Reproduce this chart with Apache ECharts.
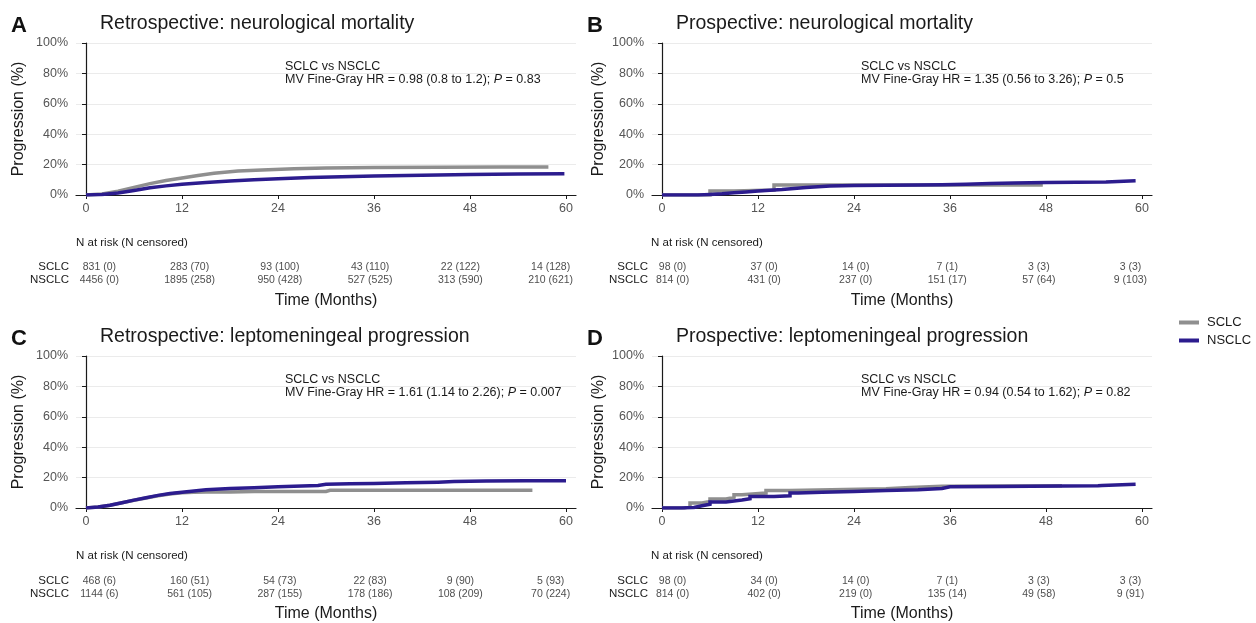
<!DOCTYPE html>
<html>
<head>
<meta charset="utf-8">
<script src="https://cdn.jsdelivr.net/npm/echarts@6/dist/echarts.min.js"></script>
<style>
html,body{margin:0;padding:0;background:#fff;}
#chart{width:1256px;height:623px;}
</style>
</head>
<body>
<div id="chart"></div>
<script>
// ---------------- DATA ----------------
const panelLetters = ['A', 'B', 'C', 'D'];
const panelTitles = [
  'Retrospective: neurological mortality',
  'Prospective: neurological mortality',
  'Retrospective: leptomeningeal progression',
  'Prospective: leptomeningeal progression'
];
const groups = ['SCLC', 'NSCLC'];
const xTicks = [0, 12, 24, 36, 48, 60];
const yTicks = [0, 20, 40, 60, 80, 100];

// Panel A (retrospective neurological mortality) - [months, %]
const A_SCLC = [[0,0],[2,0.6],[4,2.5],[6,5],[8,7.5],[10,9.5],[12,11.2],[14,12.8],[16,14.3],[19,15.8],[22,16.5],[26,17.2],[30,17.7],[36,18.1],[44,18.3],[52,18.4],[57.8,18.5]];
const A_NSCLC = [[0,0],[2,0.4],[4,1.3],[6,3],[8,4.7],[10,6],[12,7],[15,8.3],[18,9.2],[21,10],[24,10.7],[28,11.5],[32,12],[36,12.5],[42,13],[48,13.5],[54,13.8],[59.8,14]];
// Panel B (prospective neurological mortality) - step data
const B_SCLC = [[0,0],[6,2.6],[9,3.3],[14,6.6],[47.6,6.6]];
const B_NSCLC = [[0,0],[4.5,0.4],[6,0.8],[7.5,1.5],[9,2],[10.5,2.6],[12,3.1],[13.5,3.6],[15,4.3],[16.5,4.9],[18,5.4],[19.5,5.9],[21,6.2],[24,6.4],[28,6.6],[32,6.8],[35,7.1],[38,7.5],[41,7.9],[44,8.2],[48,8.5],[55.5,9.3],[59.2,9.3]];
// Panel C (retrospective leptomeningeal progression)
const C_SCLC = [[0,0],[1.5,0.7],[3,1.8],[4.5,3.5],[6,5.1],[7.5,6.6],[9,8],[10.5,9.2],[12,10],[13.5,10.3],[15,10.5],[18,10.6],[21,10.8],[24,10.9],[30,10.9],[30.5,11.7],[40,11.7],[55.8,11.7]];
const C_NSCLC = [[0,0],[1.5,0.7],[3,1.8],[4.5,3.5],[6,5.2],[7.5,6.8],[9,8.3],[10.5,9.5],[12,10.4],[13.5,11.2],[15,12],[18,12.8],[21,13.4],[24,13.9],[27,14.4],[29,14.8],[30,15.6],[33,15.9],[36,16.2],[40,16.6],[44,17],[46,17.4],[50,17.7],[55,17.9],[60,18]];
// Panel D (prospective leptomeningeal progression) - step data
const D_SCLC = [[0,0],[2.8,1.1],[3.5,3.3],[5,4.3],[6,5.9],[8,7],[9,8.7],[10,9.8],[13,11.5],[16,12.6],[28,13.5],[31,14.3],[35,14.6],[50,14.6]];
const D_NSCLC = [[0,0],[2.5,0.3],[4,1.5],[5,2.5],[6,3.9],[8,5.2],[10,6.1],[11,7.6],[14,8],[16,9.8],[17,10.4],[20,10.9],[24,11.5],[28,12],[32,12.8],[35,13.9],[36,14.1],[42,14.6],[54.5,14.8],[55,15.7],[59.2,15.7]];

// Number at risk tables
const riskTimes = [0, 12, 24, 36, 48, 60];
const A_risk_SCLC = ['831 (0)','283 (70)','93 (100)','43 (110)','22 (122)','14 (128)'];
const A_risk_NSCLC = ['4456 (0)','1895 (258)','950 (428)','527 (525)','313 (590)','210 (621)'];
const B_risk_SCLC = ['98 (0)','37 (0)','14 (0)','7 (1)','3 (3)','3 (3)'];
const B_risk_NSCLC = ['814 (0)','431 (0)','237 (0)','151 (17)','57 (64)','9 (103)'];
const C_risk_SCLC = ['468 (6)','160 (51)','54 (73)','22 (83)','9 (90)','5 (93)'];
const C_risk_NSCLC = ['1144 (6)','561 (105)','287 (155)','178 (186)','108 (209)','70 (224)'];
const D_risk_SCLC = ['98 (0)','34 (0)','14 (0)','7 (1)','3 (3)','3 (3)'];
const D_risk_NSCLC = ['814 (0)','402 (0)','219 (0)','135 (14)','49 (58)','9 (91)'];

// Annotation texts
const annotHead = 'SCLC vs NSCLC';
const annotHR = ['0.98 (0.8 to 1.2)', '1.35 (0.56 to 3.26)', '1.61 (1.14 to 2.26)', '0.94 (0.54 to 1.62)'];
const annotP = ['0.83', '0.5', '0.007', '0.82'];

// ---------------- LAYOUT / STYLE ----------------
const FONT = '"Liberation Sans", Arial, Helvetica, sans-serif';
const colors = { SCLC: '#8f8f8f', NSCLC: '#2c1c8e' };
const curves = [[A_SCLC, A_NSCLC], [B_SCLC, B_NSCLC], [C_SCLC, C_NSCLC], [D_SCLC, D_NSCLC]];
const stepped = [false, true, false, true];
const risks = [[A_risk_SCLC, A_risk_NSCLC], [B_risk_SCLC, B_risk_NSCLC], [C_risk_SCLC, C_risk_NSCLC], [D_risk_SCLC, D_risk_NSCLC]];

const plotBoxes = [
  { left: 76, top: 43, width: 500, height: 152 },
  { left: 652, top: 43, width: 500, height: 152 },
  { left: 76, top: 356, width: 500, height: 152 },
  { left: 652, top: 356, width: 500, height: 152 }
];
const riskBoxes = [
  { left: 90, top: 260.5, width: 470, height: 26, margin: 21 },
  { left: 663, top: 260.5, width: 477, height: 26, margin: 15 },
  { left: 90, top: 574.5, width: 470, height: 26, margin: 21 },
  { left: 663, top: 574.5, width: 477, height: 26, margin: 15 }
];
const XMIN = -1.25, XMAX = 61.25;

const grid = [], xAxis = [], yAxis = [], series = [], graphic = [];

plotBoxes.forEach((b, i) => {
  grid.push({ left: b.left, top: b.top, width: b.width, height: b.height, containLabel: false });
  xAxis.push({
    gridIndex: i, type: 'value', min: XMIN, max: XMAX,
    axisLine: { onZero: false, lineStyle: { color: '#1a1a1a', width: 1.2 } },
    axisTick: { show: true, length: 4, customValues: xTicks, lineStyle: { color: '#1a1a1a', width: 1 } },
    axisLabel: { customValues: xTicks, margin: 7, fontSize: 12.5, color: '#555', fontFamily: FONT },
    splitLine: { show: false }
  });
  yAxis.push({
    gridIndex: i, type: 'value', min: 0, max: 100, interval: 20,
    axisLine: { show: true, lineStyle: { color: '#1a1a1a', width: 1.2 } },
    axisTick: { show: true, length: 4, lineStyle: { color: '#1a1a1a', width: 1 } },
    axisLabel: { formatter: '{value}%', margin: 8, fontSize: 12.5, color: '#555', fontFamily: FONT },
    splitLine: { show: true, lineStyle: { color: '#ebebeb', width: 1 } }
  });
});
riskBoxes.forEach((b, i) => {
  const gi = 4 + i;
  grid.push({ left: b.left, top: b.top, width: b.width, height: b.height });
  xAxis.push({ gridIndex: gi, type: 'value', min: XMIN, max: XMAX, show: false });
  yAxis.push({
    gridIndex: gi, type: 'category', data: groups, inverse: true,
    axisLine: { show: false }, axisTick: { show: false }, splitLine: { show: false },
    axisLabel: { interval: 0, hideOverlap: false, margin: b.margin, fontSize: 11.5, color: '#1a1a1a', fontFamily: FONT }
  });
});

curves.forEach((pair, i) => {
  groups.forEach((g, k) => {
    series.push({
      name: g, type: 'line', xAxisIndex: i, yAxisIndex: i,
      data: pair[k], showSymbol: false, symbol: 'none',
      step: stepped[i] ? 'end' : false,
      lineStyle: { color: colors[g], width: 3.5, cap: 'butt', join: 'miter' },
      itemStyle: { color: colors[g] },
      z: 2 + k, silent: true
    });
  });
});

risks.forEach((pair, i) => {
  const data = [];
  groups.forEach((g, k) => {
    riskTimes.forEach((t, j) => data.push({ value: [t, g], txt: pair[k][j] }));
  });
  series.push({
    name: 'risk' + i, type: 'scatter', xAxisIndex: 4 + i, yAxisIndex: 4 + i,
    symbolSize: 0, silent: true, data: data,
    label: {
      show: true, position: 'inside', fontSize: 10.5, color: '#1a1a1a', fontFamily: FONT,
      formatter: p => p.data.txt
    }
  });
});

// Text elements: panel letters, titles, y-axis names, N at risk, Time, annotations
plotBoxes.forEach((b, i) => {
  const xOff = b.left - 76;
  const yOff = b.top - 43;
  graphic.push({ type: 'text', left: 11 + xOff, top: 15 + yOff, style: { text: panelLetters[i], font: 'bold 22px ' + FONT, fill: '#111' } });
  graphic.push({ type: 'text', left: 100 + xOff, top: 14 + yOff, style: { text: panelTitles[i], font: '19.5px ' + FONT, fill: '#1a1a1a' } });
  graphic.push({
    type: 'text', x: b.left - 57 + (i % 2 ? 4 : 0), y: b.top + b.height / 2, rotation: Math.PI / 2,
    style: { text: 'Progression (%)', font: '16px ' + FONT, fill: '#1a1a1a', textAlign: 'center', textVerticalAlign: 'middle' }
  });
  graphic.push({
    type: 'text', x: b.left + (i % 2 ? -1 : 0), y: b.top + 200,
    style: { text: 'N at risk (N censored)', font: '11.5px ' + FONT, fill: '#1a1a1a', textAlign: 'left', textVerticalAlign: 'middle' }
  });
  graphic.push({
    type: 'text', x: b.left + b.width / 2, y: b.top + 258,
    style: { text: 'Time (Months)', font: '16px ' + FONT, fill: '#1a1a1a', textAlign: 'center', textVerticalAlign: 'middle' }
  });
  graphic.push({
    type: 'text', x: b.left + 209, y: b.top + 17,
    style: {
      text: annotHead + '\n{n|MV Fine-Gray HR = ' + annotHR[i] + '; }{i|P}{n| = ' + annotP[i] + '}',
      font: '12.5px ' + FONT, fill: '#1a1a1a', lineHeight: 13, textAlign: 'left', textVerticalAlign: 'top',
      rich: {
        n: { font: '12.5px ' + FONT, fill: '#1a1a1a', lineHeight: 13 },
        i: { font: 'italic 12.5px ' + FONT, fill: '#1a1a1a', lineHeight: 13 }
      }
    }
  });
});

const option = {
  animation: false,
  backgroundColor: '#ffffff',
  textStyle: { fontFamily: FONT },
  grid: grid,
  xAxis: xAxis,
  yAxis: yAxis,
  legend: {
    data: groups, orient: 'vertical', left: 1179, top: 316, padding: 0,
    icon: 'rect', itemWidth: 20, itemHeight: 4, itemGap: 5,
    textStyle: { fontSize: 13, color: '#1a1a1a', fontFamily: FONT, padding: [0, 0, 0, 3] }
  },
  graphic: graphic,
  series: series
};

const chart = echarts.init(document.getElementById('chart'), null, { renderer: 'canvas' });
chart.setOption(option);
</script>
</body>
</html>
